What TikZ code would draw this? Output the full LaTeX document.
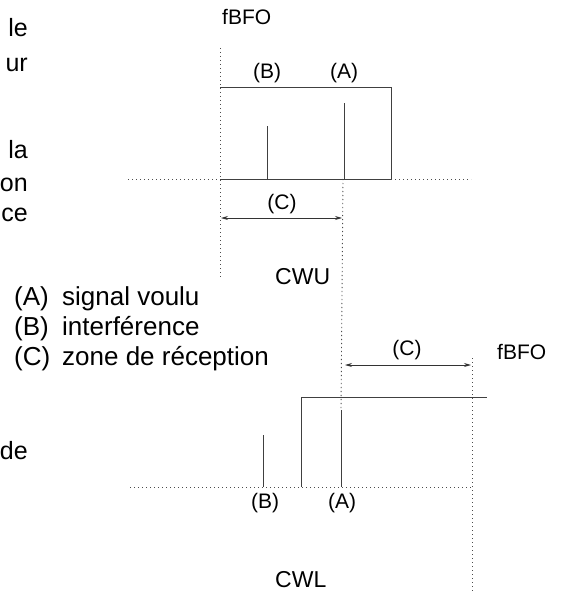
\documentclass[tikz,border=0pt]{standalone}
\usepackage{fontspec}
\setmainfont{Liberation Sans}
\usetikzlibrary{arrows.meta}
\begin{document}
\begin{tikzpicture}[x=1pt,y=-1pt,
  solidline/.style={draw=black!75, line width=0.9pt},
  dotline/.style={draw=black!70, line width=0.9pt, dash pattern=on 1.1pt off 2.9pt},
  dimarrow/.style={draw=black!80, line width=0.8pt, {Stealth[length=7pt,width=4pt]}-{Stealth[length=7pt,width=4pt]}},
  bigtxt/.style={inner sep=0pt, font=\fontsize{26}{30}\selectfont},
  fragtxt/.style={inner sep=0pt, font=\fontsize{25}{30}\selectfont},
  midtxt/.style={inner sep=0pt, font=\fontsize{23}{27}\selectfont},
  smalltxt/.style={inner sep=0pt, font=\fontsize{21}{25}\selectfont},
]
\useasboundingbox (0,0) rectangle (560,591);

% cut-off text fragments on the left
\node[fragtxt, anchor=base east] (f1) at (28,37) {le};
\node[fragtxt, anchor=base east] (f2) at (28,72) {ur};
\node[fragtxt, anchor=base east] (f3) at (28,158) {la};
\node[fragtxt, anchor=base east] (f4) at (28,191) {on};
\node[fragtxt, anchor=base east] (f5) at (28,221) {ce};
\node[fragtxt, anchor=base east] (f6) at (28,459) {de};

% legend
\node[bigtxt, anchor=base west] (la) at (14,305) {(A)};
\node[bigtxt, anchor=base west] (ta) at (62,305) {signal voulu};
\node[bigtxt, anchor=base west] (lb) at (14,335) {(B)};
\node[bigtxt, anchor=base west] (tb) at (62,335) {interférence};
\node[bigtxt, anchor=base west] (lc) at (14,365) {(C)};
\node[bigtxt, anchor=base west] (tc) at (62,365) {zone de réception};

% ---------- top diagram (CWU) ----------
\draw[dotline] (220,48) -- (220,279);
\draw[dotline] (128,179) -- (220,179);
\draw[solidline] (220,87) -- (391,87) -- (391,179) -- (220,179);
\draw[dotline] (391,179) -- (471,179);
\draw[solidline] (267,179) -- (267,126);
\draw[solidline] (344,179) -- (344,103);
\draw[dotline] (343,179) -- (341,410);
\coordinate (ua) at (221,218);
\coordinate (ub) at (342,218);
\draw[dimarrow] (ua) -- (ub);
\node[smalltxt, anchor=base west] (fu) at (222,25) {fBFO};
\node[smalltxt, anchor=base] (bu) at (267,78.5) {(B)};
\node[smalltxt, anchor=base] (au) at (344,78.5) {(A)};
\node[smalltxt, anchor=base] (cu) at (282,209) {(C)};
\node[midtxt, anchor=base west] (cwu) at (275,284) {CWU};

% ---------- bottom diagram (CWL) ----------
\draw[dotline] (130,487) -- (472,487);
\draw[solidline] (301,487) -- (301,397) -- (487,397);
\draw[solidline] (263,487) -- (263,435);
\draw[solidline] (341,487) -- (341,410);
\draw[dotline] (472,358) -- (472,591);
\coordinate (la1) at (345,365);
\coordinate (lb1) at (471,365);
\draw[dimarrow] (la1) -- (lb1);
\node[smalltxt, anchor=base] (cl) at (407,355) {(C)};
\node[smalltxt, anchor=base west] (fl) at (497,359) {fBFO};
\node[smalltxt, anchor=base] (bl) at (265,508) {(B)};
\node[smalltxt, anchor=base] (al) at (342,508) {(A)};
\node[midtxt, anchor=base west] (cwl) at (275,587) {CWL};
\end{tikzpicture}
\end{document}
